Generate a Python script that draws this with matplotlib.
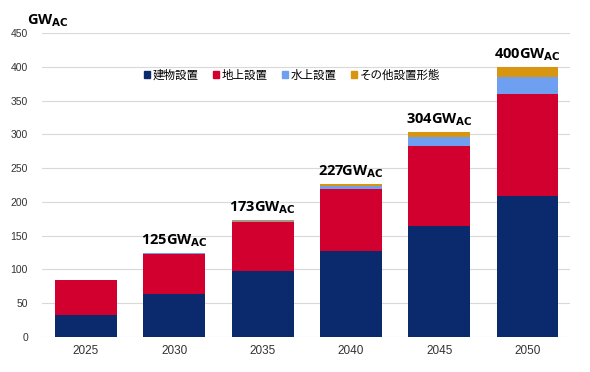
import matplotlib.pyplot as plt
import numpy as np
from matplotlib.patches import Patch

plt.rcParams['font.family'] = ['Noto Sans CJK JP', 'DejaVu Sans']

# Data (GW AC)
years = ["2025", "2030", "2035", "2040", "2045", "2050"]
building = [32, 63, 98, 127, 164, 209]
ground = [52, 60, 72, 92, 119, 151]
floating = [0, 1, 2, 5, 13, 25]
other = [0, 1, 1, 3, 8, 15]
totals = [None, 125, 173, 227, 304, 400]

series_names = ["建物設置", "地上設置", "水上設置", "その他設置形態"]
colors = ["#0b2a6e", "#d2002f", "#6f9ff0", "#d8950f"]

fig = plt.figure(figsize=(5.9, 3.72), dpi=100)
ax = fig.add_axes([0.071, 0.094, 0.895, 0.817])

x = np.arange(len(years))
bottom = np.zeros(len(years))
for vals, c in zip([building, ground, floating, other], colors):
    ax.bar(x, vals, 0.7, bottom=bottom, color=c, zorder=3)
    bottom += np.array(vals)

for i, t in enumerate(totals):
    if t is None:
        continue
    ax.text(x[i], bottom[i] + 6, f"{t}GW" + r"$_{\mathbf{AC}}$",
            ha="center", va="bottom", fontsize=10.5, fontweight="bold",
            family=["Open Sans", "DejaVu Sans"])

ax.set_ylim(0, 450)
ax.set_xlim(-0.5, 5.48)
ax.set_yticks(range(0, 451, 50))
ax.set_xticks(x)
ax.set_xticklabels(years)
ax.grid(axis="y", color="#d9d9d9", linewidth=0.8, zorder=0)
for s in ax.spines.values():
    s.set_visible(False)
ax.tick_params(axis="both", length=0, colors="#333333")
ax.tick_params(axis="x", pad=6, labelsize=8.5)
ax.tick_params(axis="y", pad=10, labelsize=7.5)
for lab in ax.get_xticklabels() + ax.get_yticklabels():
    lab.set_family(["Liberation Sans", "DejaVu Sans"])

fig.text(0.045, 0.945, "GW" + r"$_{\mathbf{AC}}$", fontsize=10.5,
         fontweight="bold", ha="left", va="center",
         family=["Open Sans", "DejaVu Sans"])

handles = [Patch(color=c) for c in colors]
ax.legend(handles, series_names, loc="center", bbox_to_anchor=(0.474, 0.862),
          ncol=4, frameon=False, fontsize=8.3, handlelength=0.5,
          handleheight=0.5, handletextpad=0.3, columnspacing=1.2)

fig.savefig("out.png", dpi=100)
